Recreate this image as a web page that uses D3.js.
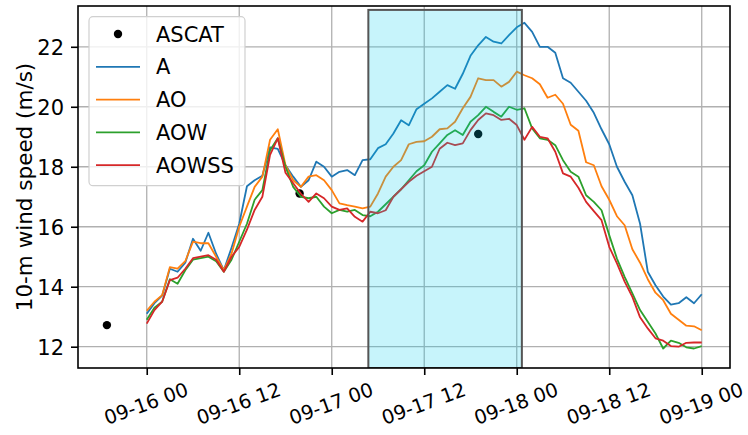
<!DOCTYPE html>
<html>
<head>
<meta charset="utf-8">
<script src="https://cdn.jsdelivr.net/npm/d3@7"></script>
<style>
  html, body { margin: 0; padding: 0; background: #fff; }
  svg { display: block; font-family: "DejaVu Sans", sans-serif; }
</style>
</head>
<body>
<svg id="chart" width="748" height="435"></svg>
<script>
// Hourly model output, starting 09-16 00 UTC
const seriesStart = "2018-09-16T00:00";
const seriesNames = ["A", "AO", "AOW", "AOWSS"];
const seriesColors = ["#1f77b4", "#ff7f0e", "#2ca02c", "#d62728"];

const windA = [
  13.1, 13.45, 13.7, 14.6, 14.5, 14.8, 15.6, 15.2, 15.8, 15.1, 14.55, 15.3,
  16.1, 17.35, 17.55, 17.7, 18.65, 18.6, 18.05, 17.67, 17.33, 17.55, 18.17, 18.0,
  17.67, 17.83, 17.89, 17.72, 18.22, 18.25, 18.62, 18.75, 19.11, 19.55, 19.38, 19.92,
  20.1, 20.28, 20.5, 20.72, 20.6, 21.1, 21.7, 22.05, 22.33, 22.17, 22.11, 22.39,
  22.65, 22.8, 22.5, 22.0, 22.0, 21.8, 20.95, 20.8, 20.5, 20.2, 19.8, 19.25,
  18.75, 18.0, 17.5, 17.05, 16.1, 14.5, 14.05, 13.67, 13.4, 13.45, 13.65, 13.45,
  13.75
];
const windAO = [
  13.2, 13.5, 13.72, 14.65, 14.6, 14.85, 15.5, 15.45, 15.45, 15.0, 14.55, 15.1,
  16.0, 16.67, 17.33, 17.67, 18.9, 19.25, 18.05, 17.55, 17.33, 17.67, 17.72, 17.55,
  17.22, 16.78, 16.72, 16.67, 16.61, 16.67, 17.11, 17.67, 18.0, 18.22, 18.75, 18.83,
  18.85, 19.0, 19.25, 19.28, 19.5, 19.95, 20.33, 20.95, 20.89, 20.89, 20.67, 20.83,
  21.17, 21.05, 20.95, 20.75, 20.3, 20.4, 20.1, 19.4, 19.2, 18.15, 18.05, 17.35,
  16.9, 16.35, 16.05, 15.25, 14.8, 14.25, 13.8, 13.55, 13.1, 12.9, 12.7, 12.68,
  12.55
];
const windAOW = [
  12.9, 13.3, 13.5, 14.25, 14.1, 14.55, 14.9, 14.95, 15.0, 14.85, 14.5, 14.9,
  15.5, 16.1, 16.9, 17.22, 18.55, 18.95, 18.0, 17.33, 17.0, 16.95, 17.0, 16.67,
  16.45, 16.56, 16.5, 16.56, 16.39, 16.35, 16.5, 16.75, 17.0, 17.25, 17.55, 17.85,
  18.05, 18.5, 18.78, 19.06, 19.22, 19.06, 19.5, 19.72, 20.0, 19.83, 19.67, 20.0,
  19.9, 19.95, 19.28, 18.95, 18.9, 18.72, 18.22, 17.83, 17.67, 17.05, 16.83, 16.55,
  15.72, 14.94, 14.33, 13.78, 13.22, 12.83, 12.44, 11.94, 12.2, 12.13, 11.98, 11.94,
  12.02
];
const windAOWSS = [
  12.77, 13.22, 13.5, 14.22, 14.3, 14.6, 14.95, 15.0, 15.05, 14.9, 14.5, 15.0,
  15.33, 15.9, 16.56, 17.0, 18.4, 18.95, 17.8, 17.45, 17.1, 16.83, 17.11, 16.95,
  16.67, 16.56, 16.61, 16.33, 16.17, 16.5, 16.45, 16.55, 17.0, 17.25, 17.5, 17.7,
  17.85, 18.0, 18.6, 18.8, 18.72, 18.78, 19.22, 19.56, 19.78, 19.72, 19.56, 19.6,
  19.39, 18.9, 19.33, 19.0, 18.95, 18.5, 17.78, 17.67, 17.3, 16.83, 16.52, 16.22,
  15.33, 14.78, 14.17, 13.66, 12.98, 12.61, 12.28, 12.2, 12.02, 12.0, 12.13, 12.14,
  12.14
];

// Scatterometer observations
const ascatTimes = ["2018-09-15T18:50", "2018-09-16T19:50", "2018-09-17T19:00"];
const ascatValues = [12.72, 17.11, 19.09];

// Axis ticks and view window
const xTickTimes = ["2018-09-16T00:00", "2018-09-16T12:00", "2018-09-17T00:00",
                    "2018-09-17T12:00", "2018-09-18T00:00", "2018-09-18T12:00",
                    "2018-09-19T00:00"];
const yTickValues = [12, 14, 16, 18, 20, 22];
const xDomainTimes = ["2018-09-15T15:05", "2018-09-19T03:40"];
const yDomainValues = [11.29, 23.36];

// Highlighted period
const shadeTimes = ["2018-09-17T04:45", "2018-09-18T00:40"];
const shadeTop = 23.23;

const parse = d3.utcParse("%Y-%m-%dT%H:%M");
const fmt = d3.utcFormat("%m-%d %H");

const allSeries = [windA, windAO, windAOW, windAOWSS];
const t0 = parse(seriesStart);
const series = allSeries.map((vals, i) => ({
  name: seriesNames[i],
  color: seriesColors[i],
  points: vals.map((v, k) => ({ t: d3.utcHour.offset(t0, k), v }))
}));

const plot = { left: 78, right: 730, top: 6, bottom: 368 };
const fontSize = 21;

const x = d3.scaleUtc()
  .domain(xDomainTimes.map(parse))
  .range([plot.left, plot.right]);
const y = d3.scaleLinear()
  .domain(yDomainValues)
  .range([plot.bottom, plot.top]);

const svg = d3.select("#chart");

svg.append("defs").append("clipPath").attr("id", "plot-clip")
  .append("rect")
  .attr("x", plot.left).attr("y", plot.top)
  .attr("width", plot.right - plot.left).attr("height", plot.bottom - plot.top);

// Grid
const grid = svg.append("g").attr("class", "grid");
grid.selectAll("line.gx").data(xTickTimes.map(parse)).join("line")
  .attr("class", "gx")
  .attr("x1", d => x(d)).attr("x2", d => x(d))
  .attr("y1", plot.top).attr("y2", plot.bottom)
  .attr("stroke", "#b0b0b0").attr("stroke-width", 1.3);
grid.selectAll("line.gy").data(yTickValues).join("line")
  .attr("class", "gy")
  .attr("x1", plot.left).attr("x2", plot.right)
  .attr("y1", d => y(d)).attr("y2", d => y(d))
  .attr("stroke", "#b0b0b0").attr("stroke-width", 1.3);

const body = svg.append("g").attr("clip-path", "url(#plot-clip)");

// Observations
body.selectAll("circle.ascat").data(ascatTimes.map((t, i) => ({ t: parse(t), v: ascatValues[i] })))
  .join("circle")
  .attr("class", "ascat")
  .attr("cx", d => x(d.t)).attr("cy", d => y(d.v))
  .attr("r", 4.2).attr("fill", "#000");

// Model lines
const line = d3.line().x(d => x(d.t)).y(d => y(d.v));
body.selectAll("path.series").data(series).join("path")
  .attr("class", "series")
  .attr("d", d => line(d.points))
  .attr("fill", "none")
  .attr("stroke", d => d.color)
  .attr("stroke-width", 1.8)
  .attr("stroke-linejoin", "round");

// Highlighted window, translucent over the lines
const s0 = parse(shadeTimes[0]), s1 = parse(shadeTimes[1]);
body.append("rect")
  .attr("x", x(s0)).attr("y", y(shadeTop))
  .attr("width", x(s1) - x(s0))
  .attr("height", y(yDomainValues[0]) - y(shadeTop))
  .attr("fill", "rgb(0,204,236)").attr("fill-opacity", 0.22)
  .attr("stroke", "#555").attr("stroke-width", 2);

// Spines
svg.append("rect")
  .attr("x", plot.left).attr("y", plot.top)
  .attr("width", plot.right - plot.left).attr("height", plot.bottom - plot.top)
  .attr("fill", "none").attr("stroke", "#000").attr("stroke-width", 1.6);

// Axes
const xAxis = d3.axisBottom(x)
  .tickValues(xTickTimes.map(parse))
  .tickFormat(fmt)
  .tickSize(7).tickPadding(7);
const gx = svg.append("g").attr("transform", `translate(0,${plot.bottom})`).call(xAxis);
gx.select(".domain").remove();
gx.selectAll(".tick line").attr("stroke", "#000").attr("stroke-width", 1.6);
gx.selectAll(".tick text")
  .attr("font-size", 19.5).attr("font-family", "DejaVu Sans").attr("fill", "#000")
  .attr("text-anchor", "middle").attr("dy", null).attr("y", null)
  .attr("dominant-baseline", "central")
  .attr("transform", "translate(-1,36) rotate(-20)");

const yAxis = d3.axisLeft(y).tickValues(yTickValues).tickFormat(d3.format("d"))
  .tickSize(7).tickPadding(7);
const gy = svg.append("g").attr("transform", `translate(${plot.left},0)`).call(yAxis);
gy.select(".domain").remove();
gy.selectAll(".tick line").attr("stroke", "#000").attr("stroke-width", 1.6);
gy.selectAll(".tick text")
  .attr("font-size", fontSize).attr("font-family", "DejaVu Sans").attr("fill", "#000")
  .attr("dy", "0.36em");

svg.append("text")
  .attr("transform", `translate(32,${(plot.top + plot.bottom) / 2}) rotate(-90)`)
  .attr("text-anchor", "middle")
  .attr("font-size", 21.5).attr("fill", "#000")
  .text("10-m wind speed (m/s)");

// Legend
const legend = svg.append("g").attr("class", "legend");
legend.append("rect")
  .attr("x", 89).attr("y", 16.7).attr("width", 156).attr("height", 169)
  .attr("rx", 4).attr("fill", "#fff").attr("fill-opacity", 0.8)
  .attr("stroke", "#d0d0d0").attr("stroke-width", 1.2);

const legendItems = [{ name: "ASCAT", kind: "dot", color: "#000" }]
  .concat(series.map(s => ({ name: s.name, kind: "line", color: s.color })));
const rowY = i => 34 + i * 32.8;
const items = legend.selectAll("g.item").data(legendItems).join("g")
  .attr("class", "item")
  .attr("transform", (d, i) => `translate(0,${rowY(i)})`);
items.filter(d => d.kind === "dot").append("circle")
  .attr("cx", 118).attr("cy", 0).attr("r", 4.2).attr("fill", d => d.color);
items.filter(d => d.kind === "line").append("line")
  .attr("x1", 96).attr("x2", 140).attr("y1", 0).attr("y2", 0)
  .attr("stroke", d => d.color).attr("stroke-width", 1.8);
items.append("text")
  .attr("x", 156).attr("y", 0).attr("dy", "0.36em")
  .attr("font-size", fontSize).attr("fill", "#000")
  .text(d => d.name);
</script>
</body>
</html>
